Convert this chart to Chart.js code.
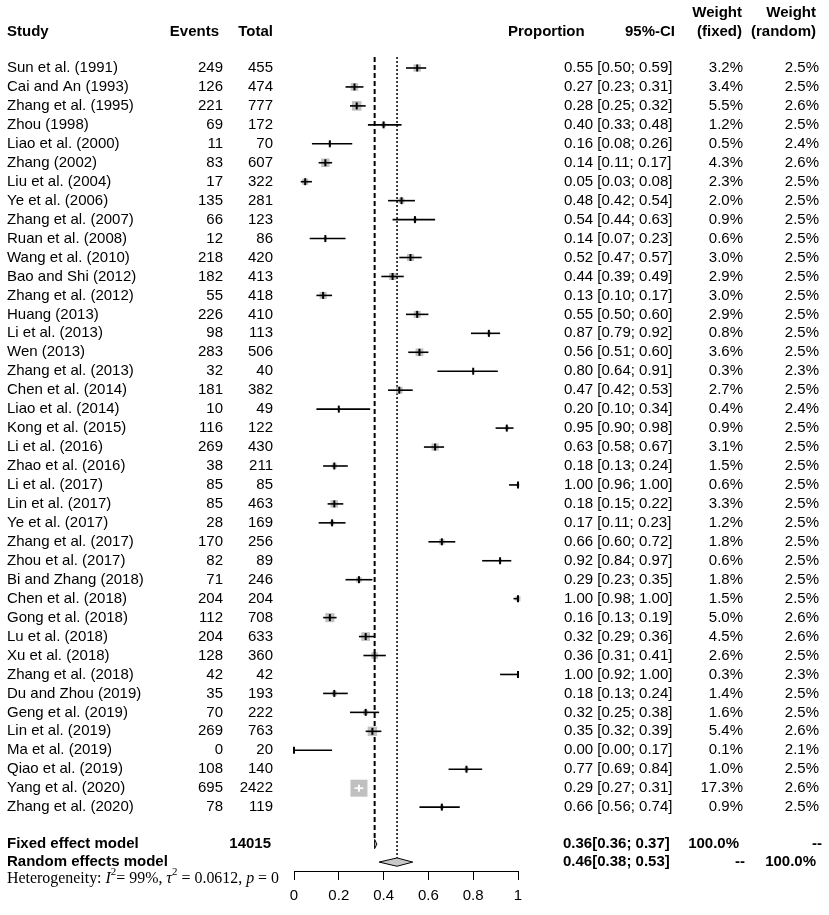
<!DOCTYPE html>
<html>
<head>
<meta charset="utf-8">
<script src="https://cdn.jsdelivr.net/npm/chart.js@4.4.1/dist/chart.umd.min.js"></script>
<style>
  html, body { margin: 0; padding: 0; background: #fff; }
  canvas { display: block; }
</style>
</head>
<body>
<canvas id="forestChart" width="829" height="915"></canvas>
<script>
// forest plot data
const studies = [
  "Sun et al. (1991)", "Cai and An (1993)", "Zhang et al. (1995)", "Zhou (1998)",
  "Liao et al. (2000)", "Zhang (2002)", "Liu et al. (2004)", "Ye et al. (2006)",
  "Zhang et al. (2007)", "Ruan et al. (2008)", "Wang et al. (2010)", "Bao and Shi (2012)",
  "Zhang et al. (2012)", "Huang (2013)", "Li et al. (2013)", "Wen (2013)",
  "Zhang et al. (2013)", "Chen et al. (2014)", "Liao et al. (2014)", "Kong et al. (2015)",
  "Li et al. (2016)", "Zhao et al. (2016)", "Li et al. (2017)", "Lin et al. (2017)",
  "Ye et al. (2017)", "Zhang et al. (2017)", "Zhou et al. (2017)", "Bi and Zhang (2018)",
  "Chen et al. (2018)", "Gong et al. (2018)", "Lu et al. (2018)", "Xu et al. (2018)",
  "Zhang et al. (2018)", "Du and Zhou (2019)", "Geng et al. (2019)", "Lin et al. (2019)",
  "Ma et al. (2019)", "Qiao et al. (2019)", "Yang et al. (2020)", "Zhang et al. (2020)"
];
const events = [249, 126, 221, 69, 11, 83, 17, 135, 66, 12, 218, 182, 55, 226, 98, 283, 32, 181, 10, 116,
  269, 38, 85, 85, 28, 170, 82, 71, 204, 112, 204, 128, 42, 35, 70, 269, 0, 108, 695, 78];
const totals = [455, 474, 777, 172, 70, 607, 322, 281, 123, 86, 420, 413, 418, 410, 113, 506, 40, 382, 49, 122,
  430, 211, 85, 463, 169, 256, 89, 246, 204, 708, 633, 360, 42, 193, 222, 763, 20, 140, 2422, 119];
const proportion = [0.55, 0.27, 0.28, 0.40, 0.16, 0.14, 0.05, 0.48, 0.54, 0.14, 0.52, 0.44, 0.13, 0.55, 0.87, 0.56, 0.80, 0.47, 0.20, 0.95,
  0.63, 0.18, 1.00, 0.18, 0.17, 0.66, 0.92, 0.29, 1.00, 0.16, 0.32, 0.36, 1.00, 0.18, 0.32, 0.35, 0.00, 0.77, 0.29, 0.66];
const ciLower = [0.50, 0.23, 0.25, 0.33, 0.08, 0.11, 0.03, 0.42, 0.44, 0.07, 0.47, 0.39, 0.10, 0.50, 0.79, 0.51, 0.64, 0.42, 0.10, 0.90,
  0.58, 0.13, 0.96, 0.15, 0.11, 0.60, 0.84, 0.23, 0.98, 0.13, 0.29, 0.31, 0.92, 0.13, 0.25, 0.32, 0.00, 0.69, 0.27, 0.56];
const ciUpper = [0.59, 0.31, 0.32, 0.48, 0.26, 0.17, 0.08, 0.54, 0.63, 0.23, 0.57, 0.49, 0.17, 0.60, 0.92, 0.60, 0.91, 0.53, 0.34, 0.98,
  0.67, 0.24, 1.00, 0.22, 0.23, 0.72, 0.97, 0.35, 1.00, 0.19, 0.36, 0.41, 1.00, 0.24, 0.38, 0.39, 0.17, 0.84, 0.31, 0.74];
const weightFixed = [3.2, 3.4, 5.5, 1.2, 0.5, 4.3, 2.3, 2.0, 0.9, 0.6, 3.0, 2.9, 3.0, 2.9, 0.8, 3.6, 0.3, 2.7, 0.4, 0.9,
  3.1, 1.5, 0.6, 3.3, 1.2, 1.8, 0.6, 1.8, 1.5, 5.0, 4.5, 2.6, 0.3, 1.4, 1.6, 5.4, 0.1, 1.0, 17.3, 0.9];
const weightRandom = [2.5, 2.5, 2.6, 2.5, 2.4, 2.6, 2.5, 2.5, 2.5, 2.5, 2.5, 2.5, 2.5, 2.5, 2.5, 2.5, 2.3, 2.5, 2.4, 2.5,
  2.5, 2.5, 2.5, 2.5, 2.5, 2.5, 2.5, 2.5, 2.5, 2.6, 2.6, 2.5, 2.3, 2.5, 2.5, 2.6, 2.1, 2.5, 2.6, 2.5];

// summary estimates: [estimate, lower, upper]
const fixedCI = [0.36, 0.36, 0.37];
const randomCI = [0.46, 0.38, 0.53];
const totalN = 14015;
const xTicks = [0, 0.2, 0.4, 0.6, 0.8, 1];
const xTickLabels = ["0", "0.2", "0.4", "0.6", "0.8", "1"];

// row positions on the y scale
const fixedRow = 40.95;
const randomRow = 41.9;
const hetRow = 42.8;

const SANS = '"Liberation Sans", Arial, sans-serif';
const SERIF = '"Liberation Serif", "Times New Roman", serif';

// box size grows with the fixed weight (area ~ weight)
const maxW = Math.max(...weightFixed);
const boxSide = w => 17 * Math.sqrt(w / maxW);

// CI drawn white when it sits inside its own box
function ciInsideBox(chart, i) {
  const xs = chart.scales.x;
  return xs.getPixelForValue(ciUpper[i]) - xs.getPixelForValue(ciLower[i]) < boxSide(weightFixed[i]) - 2;
}

const ciData = [];
studies.forEach((s, i) => {
  ciData.push({ x: ciLower[i], y: i }, { x: ciUpper[i], y: i }, { x: null, y: null });
});

function diamond(ci, row, h) {
  return [
    { x: ci[1], y: row }, { x: ci[0], y: row - h },
    { x: ci[2], y: row }, { x: ci[0], y: row + h }, { x: ci[1], y: row }
  ];
}

// text columns drawn next to the plot
const tablePlugin = {
  id: "forestTable",
  afterDraw(chart) {
    const c = chart.ctx;
    const ys = chart.scales.y;
    c.save();
    c.fillStyle = "#000";
    c.textBaseline = "middle";

    const put = (txt, x, y, align, bold) => {
      c.font = (bold ? "bold " : "") + "15px " + SANS;
      c.textAlign = align;
      c.fillText(txt, x, y);
    };

    // header
    put("Study", 7, 32, "left", true);
    put("Events", 219, 32, "right", true);
    put("Total", 273, 32, "right", true);
    put("Proportion", 508, 32, "left", true);
    put("95%-CI", 675, 32, "right", true);
    put("Weight", 742, 13, "right", true);
    put("(fixed)", 742, 32, "right", true);
    put("Weight", 816, 13, "right", true);
    put("(random)", 816, 32, "right", true);

    studies.forEach((s, i) => {
      const y = ys.getPixelForValue(i);
      put(s, 7, y, "left");
      put(String(events[i]), 223, y, "right");
      put(String(totals[i]), 273, y, "right");
      put(proportion[i].toFixed(2) + " [" + ciLower[i].toFixed(2) + "; " + ciUpper[i].toFixed(2) + "]", 564, y, "left");
      put(weightFixed[i].toFixed(1) + "%", 743, y, "right");
      put(weightRandom[i].toFixed(1) + "%", 819, y, "right");
    });

    let y = ys.getPixelForValue(fixedRow);
    put("Fixed effect model", 7, y, "left", true);
    put(String(totalN), 271, y, "right", true);
    put(fixedCI[0].toFixed(2) + "[" + fixedCI[1].toFixed(2) + "; " + fixedCI[2].toFixed(2) + "]", 563, y, "left", true);
    put("100.0%", 739, y, "right", true);
    put("--", 822, y, "right", true);

    y = ys.getPixelForValue(randomRow);
    put("Random effects model", 7, y, "left", true);
    put(randomCI[0].toFixed(2) + "[" + randomCI[1].toFixed(2) + "; " + randomCI[2].toFixed(2) + "]", 563, y, "left", true);
    put("--", 745, y, "right", true);
    put("100.0%", 816, y, "right", true);

    // heterogeneity line in serif
    y = ys.getPixelForValue(hetRow);
    const parts = [
      ["Heterogeneity: ", "", 0], ["I", "italic ", 0], ["2", "", 1], ["= 99%, ", "", 0],
      ["\u03C4", "italic ", 0], ["2", "", 1], [" = 0.0612, ", "", 0], ["p", "italic ", 0], [" = 0", "", 0]
    ];
    const fontOf = p => p[1] + (p[2] ? "11px " : "16px ") + SERIF;
    let w = 0;
    parts.forEach(p => { c.font = fontOf(p); w += c.measureText(p[0]).width; });
    const sx = 272 / w;
    c.translate(7, y);
    c.scale(sx, 1);
    c.textAlign = "left";
    let x = 0;
    parts.forEach(p => {
      c.font = fontOf(p);
      c.fillText(p[0], x, p[2] ? -7 : 0);
      x += c.measureText(p[0]).width;
    });
    c.restore();
  }
};

const ctx = document.getElementById("forestChart").getContext("2d");
const forestChart = new Chart(ctx, {
  type: "scatter",
  data: {
    datasets: [
      {
        // estimate marks
        data: proportion.map((p, i) => ({ x: p, y: i })),
        pointStyle: "line",
        pointRotation: 90,
        pointRadius: 3.5,
        pointBorderWidth: 2,
        pointBorderColor: c => (ciInsideBox(c.chart, c.dataIndex) ? "#ffffff" : "#000000"),
        order: 0,
        clip: false,
      },
      {
        // confidence intervals
        data: ciData,
        showLine: true,
        borderColor: "#000",
        borderWidth: 1.6,
        pointRadius: 0,
        spanGaps: false,
        segment: {
          borderColor: c => (ciInsideBox(c.chart, Math.floor(c.p0DataIndex / 3)) ? "#ffffff" : "#000000"),
        },
        order: 1,
        clip: false,
      },
      {
        // weight boxes
        data: proportion.map((p, i) => ({ x: p, y: i })),
        pointStyle: "rect",
        pointRadius: weightFixed.map(w => boxSide(w) / Math.SQRT2),
        pointBackgroundColor: "#c0c0c0",
        pointBorderWidth: 0,
        order: 2,
        clip: false,
      },
      {
        data: diamond(fixedCI, fixedRow, 0.24),
        showLine: true,
        fill: "shape",
        backgroundColor: "#c8c8c8",
        borderColor: "#000",
        borderWidth: 1,
        pointRadius: 0,
        order: 3,
      },
      {
        data: diamond(randomCI, randomRow, 0.22),
        showLine: true,
        fill: "shape",
        backgroundColor: "#c8c8c8",
        borderColor: "#000",
        borderWidth: 1,
        pointRadius: 0,
        order: 3,
      },
      {
        // fixed effect line
        data: [{ x: fixedCI[0], y: -0.58 }, { x: fixedCI[0], y: fixedRow - 0.24 }],
        showLine: true,
        borderColor: "#000",
        borderWidth: 2,
        borderDash: [5, 3],
        pointRadius: 0,
        order: 5,
      },
      {
        // random effects line
        data: [{ x: randomCI[0], y: -0.58 }, { x: randomCI[0], y: randomRow - 0.22 }],
        showLine: true,
        borderColor: "#000",
        borderWidth: 1.5,
        borderDash: [2, 2],
        pointRadius: 0,
        order: 5,
      },
    ],
  },
  options: {
    responsive: false,
    animation: false,
    events: [],
    layout: { padding: { left: 294, right: 311, top: 57, bottom: 0 } },
    plugins: { legend: { display: false }, tooltip: { enabled: false } },
    scales: {
      x: {
        type: "linear",
        min: 0,
        max: 1,
        afterBuildTicks: scale => { scale.ticks = xTicks.map(v => ({ value: v })); },
        afterFit: scale => { scale.height = 44; },
        ticks: {
          color: "#000",
          font: { family: SANS, size: 15 },
          padding: 7,
          maxRotation: 0,
          callback: (v, i) => xTickLabels[i],
        },
        grid: { drawOnChartArea: false, drawTicks: true, tickLength: 9, color: "#000", lineWidth: 1 },
        border: { display: true, color: "#000", width: 1 },
      },
      y: {
        type: "linear",
        min: -0.58,
        max: 42.37,
        reverse: true,
        display: false,
      },
    },
  },
  plugins: [tablePlugin],
});
</script>
</body>
</html>
